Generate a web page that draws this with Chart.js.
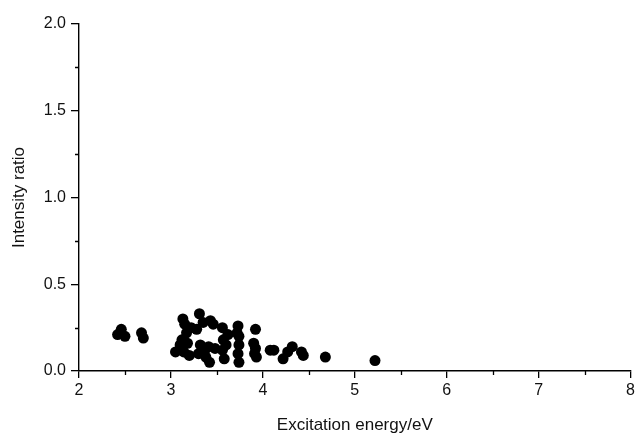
<!DOCTYPE html>
<html>
<head>
<meta charset="utf-8">
<script src="https://cdn.jsdelivr.net/npm/chart.js@4/dist/chart.umd.min.js"></script>
<style>
  html, body { margin: 0; padding: 0; background: #fff; }
  #wrap { width: 638px; height: 436px; }
</style>
</head>
<body>
<div id="wrap"><canvas id="chart"></canvas></div>
<script>
// excitation energy (eV) and intensity ratio
const energy = [
  2.42, 2.46, 2.50, 2.68, 2.70,
  3.05, 3.10, 3.12, 3.13, 3.15, 3.14, 3.17, 3.18, 3.20, 3.22,
  3.28, 3.31, 3.35, 3.32, 3.30, 3.37, 3.38, 3.42, 3.41, 3.43, 3.46, 3.48,
  3.56, 3.57, 3.56, 3.58, 3.62, 3.60,
  3.73, 3.74, 3.74, 3.73, 3.74, 3.72,
  3.90, 3.91, 3.92, 3.93, 3.92,
  4.08, 4.12, 4.22, 4.27, 4.32, 4.42, 4.44, 4.68, 5.22
];
const ratio = [
  0.21, 0.24, 0.20, 0.22, 0.19,
  0.11, 0.15, 0.18, 0.30, 0.27, 0.11, 0.22, 0.16, 0.09, 0.25,
  0.24, 0.33, 0.28, 0.15, 0.10, 0.12, 0.08, 0.05, 0.14, 0.29, 0.27, 0.13,
  0.25, 0.18, 0.12, 0.07, 0.21, 0.15,
  0.26, 0.20, 0.15, 0.10, 0.05, 0.22,
  0.16, 0.10, 0.24, 0.08, 0.13,
  0.12, 0.12, 0.07, 0.11, 0.14, 0.11, 0.09, 0.08, 0.06
];

const xTicks = [2, 3, 4, 5, 6, 7, 8];
const yTicks = [0.0, 0.5, 1.0, 1.5, 2.0];
const xMinor = [2.5, 3.5, 4.5, 5.5, 6.5, 7.5];
const yMinor = [0.25, 0.75, 1.25, 1.75];

const points = energy.map((e, i) => ({ x: e, y: ratio[i] }));

// short minor ticks, placed through the scales
const minorTicks = {
  id: 'minorTicks',
  afterDraw(chart) {
    const ctx = chart.ctx;
    const xs = chart.scales.x, ys = chart.scales.y;
    const area = chart.chartArea;
    ctx.save();
    ctx.strokeStyle = '#000';
    ctx.lineWidth = 1.3;
    ctx.beginPath();
    xMinor.forEach(v => {
      const px = Math.round(xs.getPixelForValue(v)) + 0.5;
      ctx.moveTo(px, area.bottom);
      ctx.lineTo(px, area.bottom + 4);
    });
    yMinor.forEach(v => {
      const py = Math.round(ys.getPixelForValue(v)) + 0.5;
      ctx.moveTo(area.left, py);
      ctx.lineTo(area.left - 4, py);
    });
    ctx.stroke();
    ctx.restore();
  }
};

const tickFont = { family: 'Liberation Sans, Arial, sans-serif', size: 16 };
const titleFont = { family: 'Liberation Sans, Arial, sans-serif', size: 17 };

new Chart(document.getElementById('chart'), {
  type: 'scatter',
  data: {
    datasets: [{
      data: points,
      backgroundColor: '#000',
      borderColor: '#000',
      borderWidth: 0,
      pointRadius: 5.5,
      pointHoverRadius: 5.5
    }]
  },
  options: {
    responsive: true,
    maintainAspectRatio: false,
    animation: false,
    layout: { padding: { left: 0, right: 7, top: 24, bottom: 0 } },
    plugins: { legend: { display: false }, tooltip: { enabled: false } },
    scales: {
      x: {
        type: 'linear',
        min: 2,
        max: 8,
        afterBuildTicks: s => { s.ticks = xTicks.map(v => ({ value: v })); },
        afterFit: s => { s.height = 65; },
        border: { display: true, color: '#000', width: 1.4 },
        grid: { display: true, drawOnChartArea: false, drawTicks: true, tickLength: 7, color: '#000', lineWidth: 1.3 },
        ticks: { color: '#111', font: tickFont, padding: 3, maxRotation: 0, callback: v => String(v) },
        title: { display: true, text: 'Excitation energy/eV', color: '#111', font: titleFont, padding: { top: 0, bottom: 0 } }
      },
      y: {
        type: 'linear',
        min: 0,
        max: 2,
        afterBuildTicks: s => { s.ticks = yTicks.map(v => ({ value: v })); },
        afterFit: s => { s.width = 79; },
        border: { display: true, color: '#000', width: 1.4 },
        grid: { display: true, drawOnChartArea: false, drawTicks: true, tickLength: 8, color: '#000', lineWidth: 1.3 },
        ticks: { color: '#111', font: tickFont, padding: 5, callback: v => Number(v).toFixed(1) },
        title: { display: true, text: 'Intensity ratio', color: '#111', font: titleFont, padding: { top: 9, bottom: 0 } }
      }
    }
  },
  plugins: [minorTicks]
});
</script>
</body>
</html>
